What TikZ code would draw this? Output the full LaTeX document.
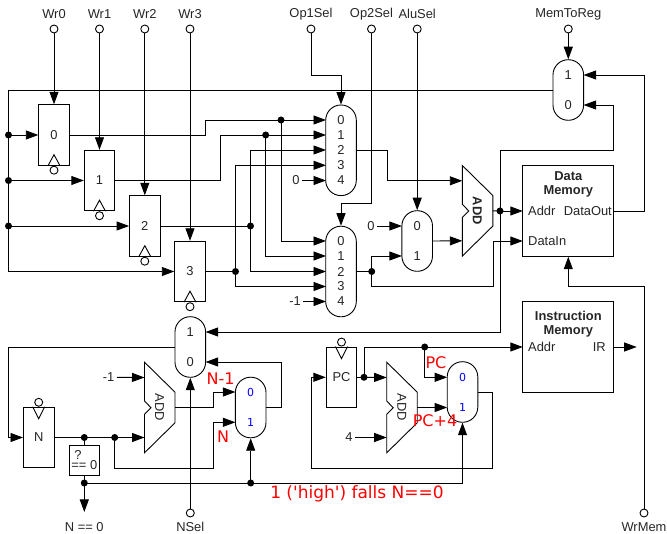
\documentclass[tikz,border=0pt]{standalone}
\usepackage{fontspec}
\setmainfont{Liberation Sans}
\newfontfamily\redfont{DejaVu Sans}
\usetikzlibrary{arrows.meta,calc}
\definecolor{txt}{gray}{0.15}
\tikzset{
  wire/.style={line width=.9pt},
  arr/.style={wire,-{Triangle[length=12.5pt,width=9pt]}},
  lbl/.style={inner sep=0pt,text=txt,font=\fontsize{12.9}{14}\selectfont},
  konst/.style={lbl,inner sep=2.5pt},
  boldlbl/.style={lbl,font=\fontsize{12.9}{14}\selectfont\bfseries},
  redlbl/.style={inner sep=0pt,text=red,font=\redfont\fontsize{16}{18}\selectfont},
  bluelbl/.style={inner sep=0pt,text=blue,font=\redfont\fontsize{11}{13}\selectfont},
  dot/.style={circle,fill=black,inner sep=0pt,minimum size=7pt},
  term/.style={circle,draw,wire,fill=white,inner sep=0pt,minimum size=8pt},
  regbox/.style={draw,wire,inner sep=0pt,minimum width=30.5pt,minimum height=60.5pt,text=txt,font=\fontsize{12.9}{14}\selectfont},
  memory/.style={draw,wire,inner sep=0pt,minimum width=91pt,minimum height=90.6pt},
  checkbox/.style={draw,wire,inner sep=0pt,minimum width=30.5pt,minimum height=30pt},
  mux/.style={draw,wire,inner sep=0pt,rounded corners=15.2pt,minimum width=30.6pt,minimum height=60.6pt},
  bigmux/.style={mux,minimum height=90.6pt},
}
% name, centre x, centre y, label: clock at the bottom
\newcommand{\regdown}[4]{%
  \node[regbox] (#1) at (#2,#3) {#4};
  \draw[wire] ([xshift=-6pt]#1.south) -- ([yshift=11pt]#1.south) -- ([xshift=6pt]#1.south);
  \node[term] (#1clk) at ($(#1.south)+(0,4.5)$) {};
}
% clock at the top
\newcommand{\regup}[4]{%
  \node[regbox] (#1) at (#2,#3) {#4};
  \draw[wire] ([xshift=-6pt]#1.north) -- ([yshift=-12pt]#1.north) -- ([xshift=6pt]#1.north);
  \node[term] (#1clk) at ($(#1.north)+(0,-4.5)$) {};
}
% name, left x, middle y, extra label style
\newcommand{\adder}[4]{%
  \draw[wire] (#2,#3-45.3) -- ++(30.5,30) -- ++(0,30.6) -- ++(-30.5,30) -- ++(0,-38.6)
     -- ++(6.5,-6.5) -- ++(-6.5,-6.7) -- cycle;
  \coordinate (#1a) at (#2,#3-30);
  \coordinate (#1b) at (#2,#3+30);
  \coordinate (#1o) at (#2+30.5,#3);
  \node[#4,rotate=-90] (#1t) at (#2+15,#3) {ADD};
}
\begin{document}
\begin{tikzpicture}[x=1pt,y=-1pt]
\useasboundingbox (0,0) rectangle (667,534);

% terminals and their labels
\node[term] (w0) at (54,29) {};     \node[lbl] (w0l) at (54,14) {Wr0};
\node[term] (w1) at (99.5,29) {};   \node[lbl] (w1l) at (99.5,14) {Wr1};
\node[term] (w2) at (144.8,29) {};  \node[lbl] (w2l) at (144.8,14) {Wr2};
\node[term] (w3) at (190,29) {};    \node[lbl] (w3l) at (190,14) {Wr3};
\node[term] (top1) at (311,29) {};  \node[lbl] (top1l) at (311,14) {Op1Sel};
\node[term] (top2) at (371.5,29) {};\node[lbl] (top2l) at (371.5,14) {Op2Sel};
\node[term] (talu) at (417.2,29) {};  \node[lbl] (talul) at (417.2,14) {AluSel};
\node[term] (tm2r) at (568.3,29) {};\node[lbl] (tm2rl) at (568.3,14) {MemToReg};
\node[term] (tnsel) at (190.3,513) {}; \node[lbl] (tnsell) at (190.3,527) {NSel};
\node[term] (twm) at (644,513) {};  \node[lbl] (twml) at (644,527) {WrMem};
\node[lbl] (nz) at (84.3,527) {N == 0};
\coordinate (nzin) at (84.3,512);

% registers
\regdown{r0}{54}{135}{0}
\regdown{r1}{99.5}{180.5}{1}
\regdown{r2}{144.8}{226}{2}
\regdown{r3}{190}{271.5}{3}
\regup{pc}{341.5}{377.3}{PC}
\regup{nr}{38.7}{437.5}{N}

% multiplexers
\node[mux] (m0) at (568.3,90) {};
\node[lbl] at (568.3,75) {1};
\node[lbl] at (568.3,105) {0};
\node[bigmux] (m1) at (341,150.3) {};
\node[lbl] at (341,120) {0};
\node[lbl] at (341,135) {1};
\node[lbl] at (341,150) {2};
\node[lbl] at (341,165.3) {3};
\node[lbl] at (341,180.5) {4};
\node[bigmux] (m2) at (341,271.5) {};
\node[lbl] at (341,241) {0};
\node[lbl] at (341,256) {1};
\node[lbl] at (341,271.5) {2};
\node[lbl] at (341,286.5) {3};
\node[lbl] at (341,301.5) {4};
\node[mux] (ma) at (417.2,241) {};
\node[lbl] at (417.2,226) {0};
\node[lbl] at (417.2,256) {1};
\node[mux] (mn) at (190.3,347) {};
\node[lbl] at (190.3,332) {1};
\node[lbl] at (190.3,362) {0};
\node[mux] (mb) at (250.7,407.5) {};
\node[bluelbl] at (250.7,392) {0};
\node[bluelbl] at (250.7,422.3) {1};
\node[mux] (mp) at (462.5,392) {};
\node[bluelbl] at (462.5,377.3) {0};
\node[bluelbl] at (462.5,407.5) {1};

% mux ports
\coordinate (m0i1) at (583.6,75);    \coordinate (m0i0) at (583.6,105);
\coordinate (m1i0) at (326,120);     \coordinate (m1i1) at (326,135);
\coordinate (m1i2) at (326,150);     \coordinate (m1i3) at (326,165.3);
\coordinate (m1i4) at (326,180.5);   \coordinate (m1o) at (356.3,150);
\coordinate (m2i0) at (326,241);     \coordinate (m2i1) at (326,256);
\coordinate (m2i2) at (326,271.5);   \coordinate (m2i3) at (326,286.5);
\coordinate (m2i4) at (326,301.5);   \coordinate (m2o) at (356.3,271.5);
\coordinate (mai0) at (401.9,226);   \coordinate (mai1) at (401.9,256);
\coordinate (mni1) at (205.6,332);   \coordinate (mni0) at (205.6,362);
\coordinate (mbi0) at (235.4,392);   \coordinate (mbi1) at (235.4,422.3);
\coordinate (mbo) at (266,407.5);
\coordinate (mpi0) at (447.2,377.3); \coordinate (mpi1) at (447.2,407.5);
\coordinate (mpo) at (477.8,392);

% adders
\adder{a1}{462.3}{210.8}{boldlbl}
\adder{a2}{386.7}{407.5}{lbl}
\adder{a3}{144.5}{407.5}{lbl}

% memories
\node[memory] (dm) at (568.3,211) {};
\node[boldlbl] (dmt1) at (568.3,176) {Data};
\node[boldlbl] (dmt2) at (568.3,191) {Memory};
\node[lbl,anchor=west] (dmaddr) at (528,211) {Addr};
\node[lbl,anchor=east] (dmout) at (612,211) {DataOut};
\node[lbl,anchor=west] (dmin) at (528,241) {DataIn};
\coordinate (dmia) at (522.8,211);
\coordinate (dmib) at (522.8,241);
\coordinate (dmo) at (613.8,211);
\node[memory] (im) at (568.3,346.7) {};
\node[boldlbl] (imt1) at (568.3,316) {Instruction};
\node[boldlbl] (imt2) at (568.3,331) {Memory};
\node[lbl,anchor=west] (imaddr) at (528,347) {Addr};
\node[lbl,anchor=east] (imir) at (606,347) {IR};
\coordinate (imia) at (522.8,347);
\coordinate (imo) at (613.8,347);
\coordinate (imx) at (636.7,347);

% zero check
\node[checkbox] (chk) at (84.3,460.3) {};
\node[lbl,align=left,font=\fontsize{12.9}{9}\selectfont] (chkt) at (84.3,460.5) {\hspace*{3pt}?\\== 0};

% constants
\node[konst] (k1) at (296,180.5) {0};
\node[konst] (k2) at (295,301.5) {-1};
\node[konst] (k3) at (371,226) {0};
\node[konst] (k4) at (108.5,377.3) {-1};
\node[konst] (k5) at (349,437.5) {4};

% junctions
\node[dot] (din1) at (8.5,135) {};
\node[dot] (din2) at (8.5,180.5) {};
\node[dot] (din3) at (8.5,226) {};
\node[dot] (d0) at (281,120) {};
\node[dot] (d1) at (265.7,135) {};
\node[dot] (d2) at (250.5,226) {};
\node[dot] (d3) at (235.5,271.5) {};
\node[dot] (d4) at (371.7,271.5) {};
\node[dot] (d5) at (500,211) {};
\node[dot] (d6) at (364,377.3) {};
\node[dot] (d7) at (424.7,347) {};
\node[dot] (d8) at (84.3,437.5) {};
\node[dot] (d9) at (114.7,437.5) {};
\node[dot] (d10) at (84.3,483) {};
\node[dot] (d11) at (250.7,483) {};

% write enables
\draw[arr] (w0.south) -- (r0.north);
\draw[arr] (w1.south) -- (r1.north);
\draw[arr] (w2.south) -- (r2.north);
\draw[arr] (w3.south) -- (r3.north);

% register input bus
\draw[arr] (m0.west) -- (8.5,90) -- (8.5,271.5) -- (r3.west);
\draw[arr] (din1.center) -- (r0.west);
\draw[arr] (din2.center) -- (r1.west);
\draw[arr] (din3.center) -- (r2.west);

% register outputs
\draw[arr] (r0.east) -- (205,135) -- (205,120) -- (m1i0);
\draw[arr] (d0.center) |- (m2i0);
\draw[arr] (r1.east) -- (220.7,180.5) -- (220.7,135) -- (m1i1);
\draw[arr] (d1.center) |- (m2i1);
\draw[wire] (r2.east) -- (d2.center);
\draw[arr] (d2.center) |- (m1i2);
\draw[arr] (d2.center) |- (m2i2);
\draw[wire] (r3.east) -- (d3.center);
\draw[arr] (d3.center) |- (m1i3);
\draw[arr] (d3.center) |- (m2i3);
\draw[arr] (k1.east) -- (m1i4);
\draw[arr] (k2.east) -- (m2i4);

% select lines
\draw[arr] (top1.south) |- (341,75) -- (m1.north);
\draw[arr] (top2.south) -- (371.5,203) -- (341,203) -- (m2.north);
\draw[arr] (talu.south) -- (ma.north);
\draw[arr] (tm2r.south) -- (m0.north);

% ALU
\draw[arr] (m1o) -- (387,150) -- (387,180.8) -- (a1a);
\draw[arr] (k3.east) -- (mai0);
\draw[wire] (m2o) -- (d4.center);
\draw[arr] (d4.center) |- (mai1);
\draw[arr] (d4.center) -- (371.7,286.5) -- (493,286.5) -- (493,241) -- (dmib);
\draw[arr] (ma.east) -- (a1b);
\draw[wire] (a1o) -- (d5.center);
\draw[arr] (d5.center) -- (dmia);
\draw[arr] (d5.center) -- (500,150) -- (613.7,150) -- (613.7,105) -- (m0i0);
\draw[arr] (d5.center) |- (mni1);
\draw[arr] (dmo) -- (644,211) -- (644,75) -- (m0i1);
\draw[arr] (twm.north) -- (644,286) -- (568.3,286) -- (dm.south);

% program counter
\draw[wire] (pc.east) -- (d6.center);
\draw[arr] (d6.center) -- (a2a);
\draw[arr] (d6.center) |- (imia);
\draw[arr] (d7.center) |- (mpi0);
\draw[arr] (a2o) -- (mpi1);
\draw[arr] (k5.east) -- (a2b);
\draw[arr] (mpo) -- (492.7,392) -- (492.7,468) -- (311,468) -- (311,377.3) -- (pc.west);
\draw[arr] (imo) -- (imx);

% N counter
\draw[arr] (mn.west) -- (8.5,347) -- (8.5,437.5) -- (nr.west);
\draw[wire] (nr.east) -- (d8.center);
\draw[wire] (d8.center) -- (d9.center);
\draw[arr] (d9.center) -- (a3b);
\draw[wire] (d8.center) -- (chk.north);
\draw[arr] (d9.center) -- (114.7,468) -- (213,468) -- (213,422.3) -- (mbi1);
\draw[arr] (k4.east) -- (a3a);
\draw[arr] (a3o) -- (213,407.5) -- (213,392) -- (mbi0);
\draw[arr] (mbo) -- (281,407.5) -- (281,362) -- (mni0);
\draw[arr] (tnsel.north) -- (mn.south);
\draw[wire] (chk.south) -- (d10.center);
\draw[arr] (d10.center) -- (nzin);
\draw[wire] (d10.center) -- (d11.center);
\draw[arr] (d11.center) -- (mb.south);
\draw[arr] (d11.center) -- (462.5,483) -- (mp.south);

% annotations
\node[redlbl] (tn1) at (220.5,379) {N-1};
\node[redlbl] (tn) at (223,437) {N};
\node[redlbl] (tpc) at (436,363) {PC};
\node[redlbl] (tpc4) at (435,421) {PC+4};
\node[redlbl,font=\redfont\fontsize{17}{19}\selectfont] (thigh) at (357,494) {1 ('high') falls N==0};
\end{tikzpicture}
\end{document}
